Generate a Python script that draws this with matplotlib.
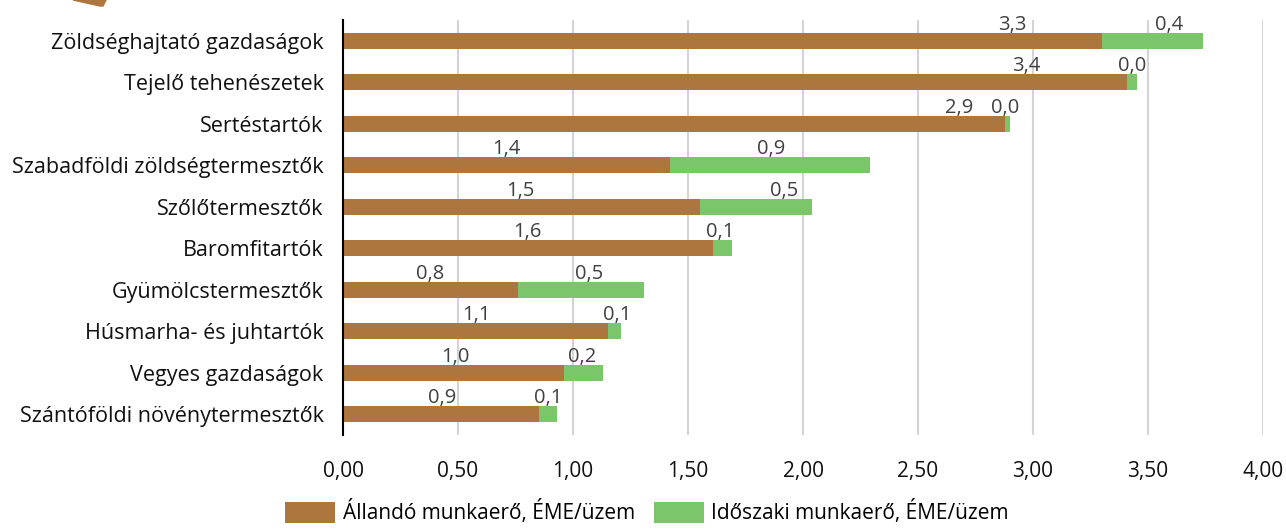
import matplotlib.pyplot as plt
from matplotlib.patches import Polygon

# data
categories = ['Zöldséghajtató gazdaságok', 'Tejelő tehenészetek', 'Sertéstartók',
              'Szabadföldi zöldségtermesztők', 'Szőlőtermesztők', 'Baromfitartók',
              'Gyümölcstermesztők', 'Húsmarha- és juhtartók', 'Vegyes gazdaságok',
              'Szántóföldi növénytermesztők']
allando = [3.30, 3.41, 2.88, 1.42, 1.55, 1.61, 0.76, 1.15, 0.96, 0.85]
idoszaki = [0.44, 0.04, 0.02, 0.87, 0.49, 0.08, 0.55, 0.06, 0.17, 0.08]
allando_lbl = ['3,3', '3,4', '2,9', '1,4', '1,5', '1,6', '0,8', '1,1', '1,0', '0,9']
idoszaki_lbl = ['0,4', '0,0', '0,0', '0,9', '0,5', '0,1', '0,5', '0,1', '0,2', '0,1']
# label anchor (x, data units) - placed by hand in the original
allando_lbl_x = [2.91, 2.97, 2.68, 0.71, 0.77, 0.80, 0.38, 0.58, 0.49, 0.43]
idoszaki_lbl_x = [3.59, 3.43, 2.88, 1.86, 1.92, 1.64, 1.07, 1.19, 1.04, 0.89]
xticks = [0, 0.5, 1, 1.5, 2, 2.5, 3, 3.5, 4]
series_names = ['Állandó munkaerő, ÉME/üzem', 'Időszaki munkaerő, ÉME/üzem']

BROWN = '#AD763F'
GREEN = '#7BC56A'

plt.rcParams['font.family'] = ['Open Sans', 'DejaVu Sans']

fig = plt.figure(figsize=(12.86, 5.30), dpi=100)
ax = fig.add_axes([343 / 1286, 95 / 530, 920 / 1286, 415 / 530])

y = list(range(len(categories)))
h = 0.38
ax.barh(y, allando, height=h, color=BROWN, label=series_names[0], zorder=3)
ax.barh(y, idoszaki, left=allando, height=h, color=GREEN, label=series_names[1], zorder=3)

for i in y:
    ax.text(allando_lbl_x[i], i - h / 2 + 0.04, allando_lbl[i], ha='center', va='bottom',
            fontsize=14.5, color='#404040')
    ax.text(idoszaki_lbl_x[i], i - h / 2 + 0.04, idoszaki_lbl[i], ha='center', va='bottom',
            fontsize=14.5, color='#404040')

ax.set_ylim(len(categories) - 0.5, -0.5)
ax.set_xlim(0, 4)
ax.set_yticks(y)
ax.set_yticklabels(categories, fontsize=15.5, color='#111111')
ax.set_xticks(xticks)
ax.set_xticklabels([f'{v:.2f}'.replace('.', ',') for v in xticks], fontsize=15, color='#111111')
ax.tick_params(axis='both', length=0)
ax.tick_params(axis='x', pad=19)
ax.tick_params(axis='y', pad=14)

ax.grid(axis='x', color='#D4D4D4', linewidth=1.5, zorder=0)
for s in ['top', 'right', 'bottom']:
    ax.spines[s].set_visible(False)
ax.spines['left'].set_color('black')
ax.spines['left'].set_linewidth(1.5)
ax.spines['left'].set_zorder(4)

leg = fig.legend(loc='lower center', bbox_to_anchor=(0.503, -0.025), ncol=2, frameon=False,
                 fontsize=15, handlelength=2.4, handleheight=1.2, columnspacing=0.9,
                 handletextpad=0.35)

# decorative corner fragment
W, H = 1286, 530
pts = [(73, 0), (106, 0), (103, 6), (100, 6)]
fig.patches.append(Polygon([(px / W, 1 - py / H) for px, py in pts], closed=True,
                           transform=fig.transFigure, color=BROWN))

fig.savefig('out.png', dpi=100)
